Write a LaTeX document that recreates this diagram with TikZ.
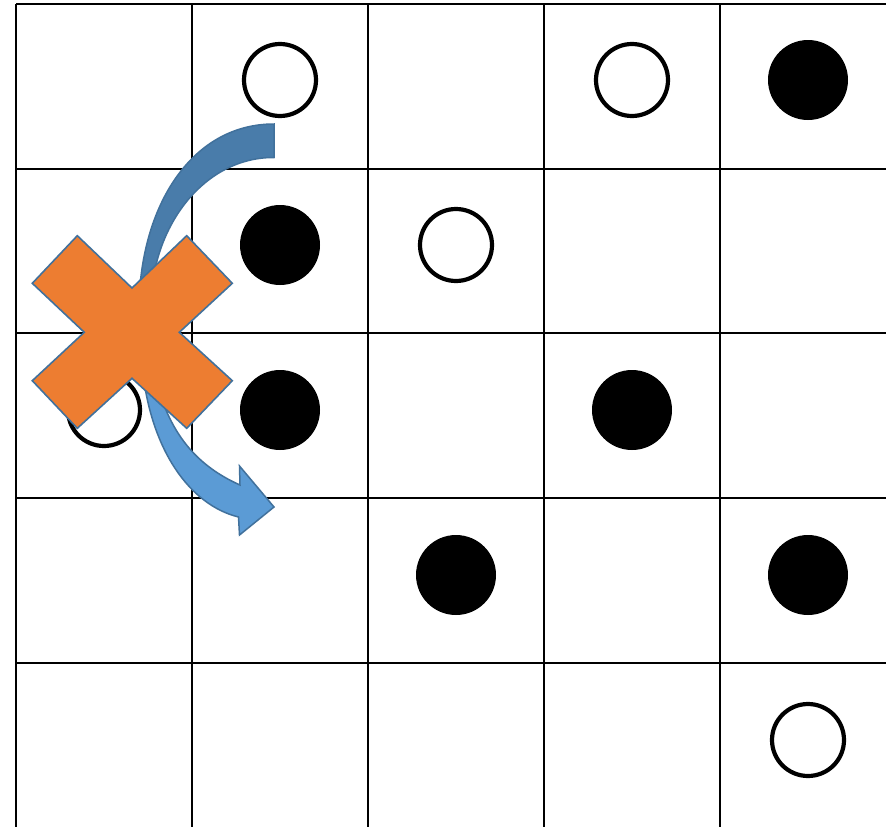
\documentclass[tikz,border=0pt]{standalone}
\definecolor{xorange}{HTML}{ED7D31}
\definecolor{edgeblue}{HTML}{41719C}
\definecolor{darkband}{HTML}{497CAA}
\definecolor{lightband}{HTML}{5B9BD5}
\begin{document}
\begin{tikzpicture}[x=1pt,y=-1pt,
  gridline/.style={black,line width=2.7pt},
  opendot/.style={circle,draw=black,line width=4.2pt,fill=white,minimum size=72pt,inner sep=0pt},
  fulldot/.style={circle,fill=black,minimum size=80pt,inner sep=0pt},
  bandshape/.style={draw=edgeblue,line width=1.5pt,line join=miter},
  cross/.style={fill=xorange,draw=edgeblue,line width=1.6pt,line join=miter}]
\useasboundingbox (0,0) rectangle (886,827);
\fill[white] (0,0) rectangle (886,827);
% grid
\foreach \x in {16,192,368,544,720} \draw[gridline] (\x,4) -- (\x,827);
\foreach \y in {4,169,333,498,663} \draw[gridline] (16,\y) -- (886,\y);
% dots
\node[opendot] (o1) at (280,80) {};
\node[opendot] (o2) at (632,80) {};
\node[fulldot] (f1) at (808,80) {};
\node[fulldot] (f2) at (280,245) {};
\node[opendot] (o3) at (456,245) {};
\node[opendot] (o4) at (104,410) {};
\node[fulldot] (f3) at (280,410) {};
\node[fulldot] (f4) at (632,410) {};
\node[fulldot] (f5) at (456,575) {};
\node[fulldot] (f6) at (808,575) {};
\node[opendot] (o5) at (808,740) {};
% curved arrow: back (darker) part
\filldraw[bandshape,fill=darkband] (274,124) .. controls (192,124) and (141,205) .. (139,305)
  -- (151,305) .. controls (152,225) and (205,157) .. (274,157.5) -- cycle;
% curved arrow: front part with head
\filldraw[bandshape,fill=lightband] (142,365) .. controls (150,450) and (190,505) .. (238.5,517)
  -- (239.5,535) -- (274,507) -- (239.5,466) -- (240,485)
  .. controls (195,465) and (165,430) .. (153,365) -- cycle;
% cross
\filldraw[cross] (132,288) -- (186.7,235.7) -- (232.3,283.3) -- (179.3,332.3)
  -- (232.3,380.7) -- (186.7,428.3) -- (132,378.3) -- (77.3,428.3)
  -- (32.3,380.7) -- (84.3,332.3) -- (32.3,283.3) -- (77.3,235.7) -- cycle;
\end{tikzpicture}
\end{document}
